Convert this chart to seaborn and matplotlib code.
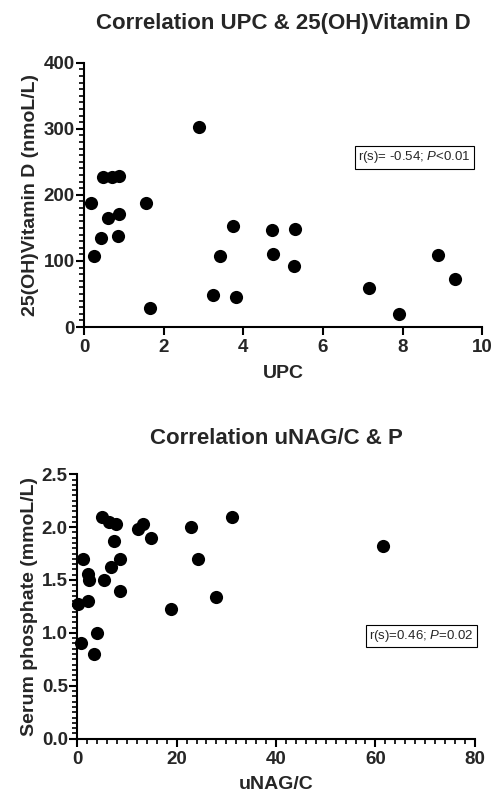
import matplotlib
matplotlib.use('Agg')
import matplotlib.pyplot as plt
from matplotlib.ticker import MultipleLocator
import seaborn as sns
import pandas as pd

sns.set_theme(style='ticks')
plt.rcParams['font.family'] = ['Liberation Sans', 'DejaVu Sans']
plt.rcParams['mathtext.fontset'] = 'custom'
plt.rcParams['mathtext.rm'] = 'Liberation Sans'
plt.rcParams['mathtext.it'] = 'Liberation Sans:italic'

# UPC vs 25(OH)Vitamin D
upc = [0.18, 0.26, 0.42, 0.49, 0.61, 0.71, 0.88, 0.88, 0.86, 1.57, 1.65, 2.88,
       3.24, 3.41, 3.75, 3.82, 4.71, 4.74, 5.30, 5.27, 7.16, 7.92, 8.90, 9.32]
vitd = [187, 107, 134, 227, 165, 227, 229, 171, 137, 187, 29, 302,
        49, 107, 153, 46, 147, 111, 148, 93, 59, 19, 109, 72]

# uNAG/C vs serum phosphate
unag = [0.2, 0.67, 1.2, 2.08, 2.35, 2.08, 3.4, 3.9, 5.04, 5.44, 6.3, 6.8, 7.45,
        7.86, 8.66, 8.66, 12.3, 13.2, 14.8, 18.9, 22.8, 24.2, 28.0, 31.1, 61.6]
phos = [1.27, 0.90, 1.70, 1.56, 1.50, 1.30, 0.80, 1.00, 2.10, 1.50, 2.05, 1.62, 1.87,
        2.03, 1.70, 1.40, 1.98, 2.03, 1.90, 1.23, 2.00, 1.70, 1.34, 2.10, 1.82]

df1 = pd.DataFrame({'UPC': upc, 'vitd': vitd})
df2 = pd.DataFrame({'uNAG/C': unag, 'phos': phos})

fig = plt.figure(figsize=(4.94, 7.97), dpi=100)
ax1 = fig.add_axes([0.170, 0.5897, 0.806, 0.3316])
ax2 = fig.add_axes([0.1565, 0.0732, 0.8045, 0.3318])


def style_axis(ax):
    for s in ['top', 'right']:
        ax.spines[s].set_visible(False)
    for s in ['left', 'bottom']:
        ax.spines[s].set_linewidth(1.5)
        ax.spines[s].set_color('black')
    ax.tick_params(which='major', length=5.8, width=1.5, color='black',
                   labelsize=13.5)
    ax.tick_params(axis='x', which='major', pad=3)
    ax.tick_params(axis='y', which='major', pad=1)
    ax.tick_params(which='minor', length=3.5, width=1.2, color='black')
    for lab in ax.get_xticklabels() + ax.get_yticklabels():
        lab.set_fontweight('bold')


box = dict(boxstyle='square,pad=0.25', facecolor='white', edgecolor='black', linewidth=0.8)

sns.scatterplot(data=df1, x='UPC', y='vitd', ax=ax1, color='black', s=90,
                edgecolor='black', linewidth=0, clip_on=False, legend=False)
ax1.set_xlim(0, 10)
ax1.set_ylim(0, 400)
ax1.xaxis.set_major_locator(MultipleLocator(2))
ax1.yaxis.set_major_locator(MultipleLocator(100))
ax1.yaxis.set_minor_locator(MultipleLocator(10))
ax1.set_xlabel('UPC', fontsize=14, fontweight='bold', labelpad=6)
ax1.set_ylabel('25(OH)Vitamin D (nmoL/L)', fontsize=14, fontweight='bold', labelpad=3)
ax1.set_title('Correlation UPC & 25(OH)Vitamin D', fontsize=16, fontweight='bold', pad=24)
style_axis(ax1)
ax1.text(8.3, 257, r'r(s)= -0.54; $\it{P}$<0.01', ha='center', va='center',
         fontsize=9.5, bbox=box)

sns.scatterplot(data=df2, x='uNAG/C', y='phos', ax=ax2, color='black', s=90,
                edgecolor='black', linewidth=0, clip_on=False, legend=False)
ax2.set_xlim(0, 80)
ax2.set_ylim(0, 2.5)
ax2.xaxis.set_major_locator(MultipleLocator(20))
ax2.xaxis.set_minor_locator(MultipleLocator(2))
ax2.yaxis.set_major_locator(MultipleLocator(0.5))
ax2.yaxis.set_minor_locator(MultipleLocator(0.05))
ax2.yaxis.set_major_formatter(plt.FormatStrFormatter('%.1f'))
ax2.set_xlabel('uNAG/C', fontsize=14, fontweight='bold', labelpad=6)
ax2.set_ylabel('Serum phosphate (mmoL/L)', fontsize=14, fontweight='bold', labelpad=3)
ax2.set_title('Correlation uNAG/C & P', fontsize=16, fontweight='bold', pad=22)
style_axis(ax2)
ax2.text(69.3, 0.97, r'r(s)=0.46; $\it{P}$=0.02', ha='center', va='center',
         fontsize=9.5, bbox=box)

fig.savefig('out.png', dpi=100)
